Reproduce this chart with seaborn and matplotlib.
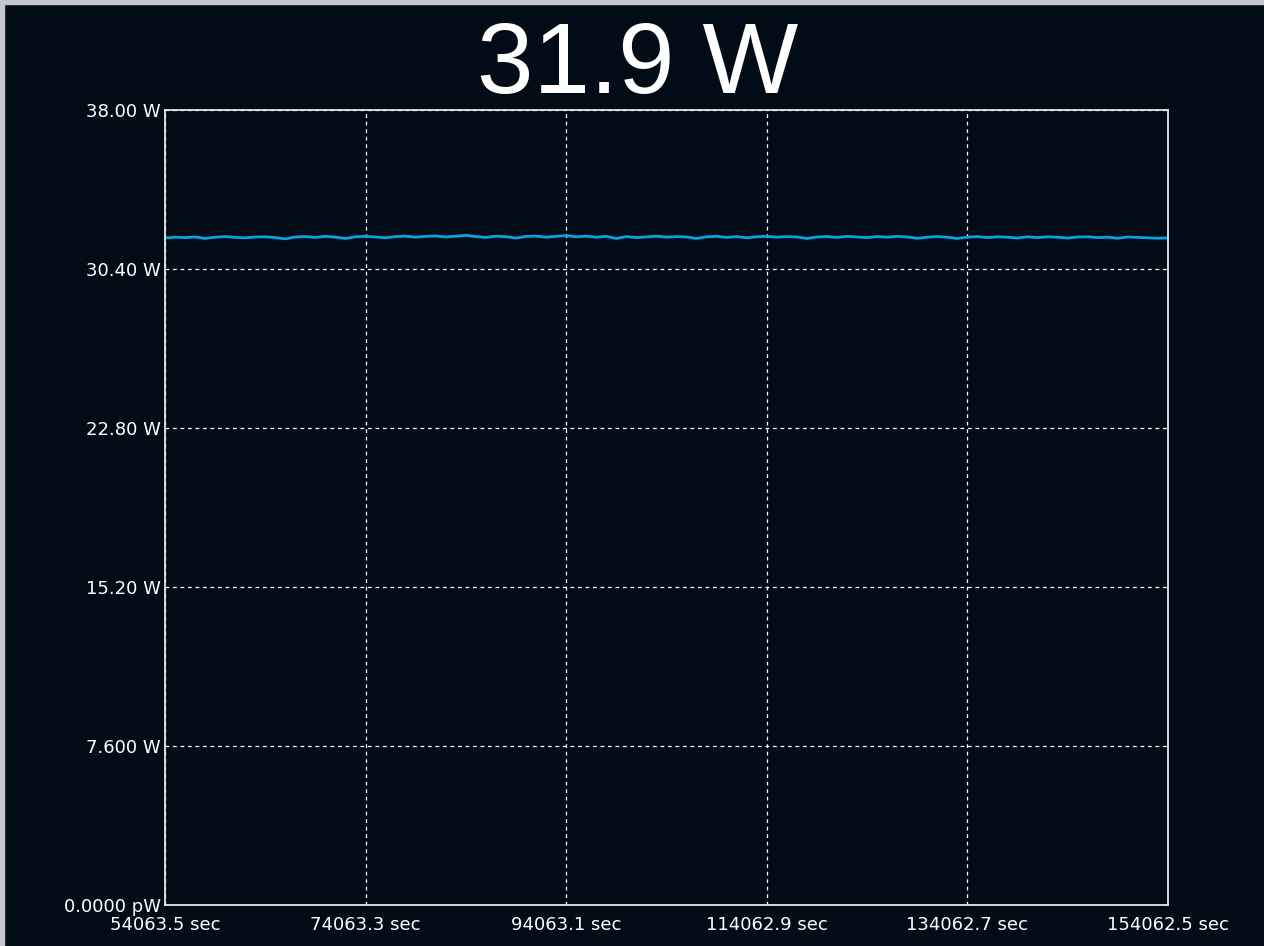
import numpy as np
import pandas as pd
import matplotlib
matplotlib.use("Agg")
import matplotlib.pyplot as plt
import seaborn as sns
from matplotlib.patches import Rectangle


BG = "#020c17"
LINE = "#0aa2de"

READING = "31.9 W"

TIME_SEC = [
    54063.5, 55063.5, 56063.5, 57063.5, 58063.5, 59063.5, 60063.5, 61063.5, 62063.5, 63063.5,
    64063.5, 65063.5, 66063.5, 67063.5, 68063.5, 69063.5, 70063.5, 71063.5, 72063.5, 73063.5,
    74063.3, 75063.3, 76063.3, 77063.3, 78063.3, 79063.3, 80063.3, 81063.3, 82063.3, 83063.3,
    84063.3, 85063.3, 86063.3, 87063.3, 88063.3, 89063.3, 90063.3, 91063.3, 92063.3, 93063.3,
    94063.1, 95063.1, 96063.1, 97063.1, 98063.1, 99063.1, 100063.1, 101063.1, 102063.1, 103063.1,
    104063.1, 105063.1, 106063.1, 107063.1, 108063.1, 109063.1, 110063.1, 111063.1, 112063.1, 113063.1,
    114062.9, 115062.9, 116062.9, 117062.9, 118062.9, 119062.9, 120062.9, 121062.9, 122062.9, 123062.9,
    124062.9, 125062.9, 126062.9, 127062.9, 128062.9, 129062.9, 130062.9, 131062.9, 132062.9, 133062.9,
    134062.7, 135062.7, 136062.7, 137062.7, 138062.7, 139062.7, 140062.7, 141062.7, 142062.7, 143062.7,
    144062.7, 145062.7, 146062.7, 147062.7, 148062.7, 149062.7, 150062.7, 151062.7, 152062.7, 153062.7,
    154062.5,
]

POWER_W = [
    31.88, 31.92, 31.90, 31.93, 31.86, 31.92, 31.95, 31.91, 31.89, 31.93,
    31.94, 31.90, 31.84, 31.93, 31.95, 31.91, 31.96, 31.92, 31.86, 31.94,
    31.96, 31.93, 31.89, 31.95, 31.97, 31.92, 31.96, 31.98, 31.93, 31.97,
    32.01, 31.95, 31.91, 31.97, 31.94, 31.88, 31.96, 31.97, 31.92, 31.96,
    32.00, 31.94, 31.97, 31.92, 31.96, 31.86, 31.95, 31.90, 31.93, 31.97,
    31.92, 31.95, 31.93, 31.86, 31.94, 31.96, 31.91, 31.95, 31.89, 31.94,
    31.96, 31.92, 31.95, 31.93, 31.86, 31.93, 31.95, 31.91, 31.96, 31.93,
    31.90, 31.95, 31.92, 31.96, 31.93, 31.87, 31.92, 31.95, 31.92, 31.86,
    31.92, 31.95, 31.90, 31.94, 31.92, 31.88, 31.94, 31.90, 31.94, 31.92,
    31.88, 31.93, 31.94, 31.90, 31.92, 31.87, 31.93, 31.91, 31.89, 31.87,
    31.89,
]

X_TICKS = [54063.5, 74063.3, 94063.1, 114062.9, 134062.7, 154062.5]
X_LABELS = ["54063.5 sec", "74063.3 sec", "94063.1 sec",
            "114062.9 sec", "134062.7 sec", "154062.5 sec"]

Y_TICKS = [0.0, 7.6, 15.2, 22.8, 30.4, 38.0]
Y_LABELS = ["0.0000 pW", "7.600 W", "15.20 W", "22.80 W", "30.40 W", "38.00 W"]


df = pd.DataFrame({"time": TIME_SEC, "power": POWER_W})

sns.set_theme(style="dark")
plt.rcParams["font.family"] = ["DejaVu Sans"]

fig = plt.figure(figsize=(12.64, 9.46), dpi=100, facecolor=BG)
ax = fig.add_axes([165 / 1264, 1 - 905 / 946, 1003 / 1264, 795 / 946])
ax.set_facecolor(BG)

sns.lineplot(data=df, x="time", y="power", ax=ax, color=LINE, linewidth=2.0)

ax.set_xlim(X_TICKS[0], X_TICKS[-1])
ax.set_ylim(Y_TICKS[0], Y_TICKS[-1])
ax.set_xticks(X_TICKS)
ax.set_xticklabels(X_LABELS)
ax.set_yticks(Y_TICKS)
ax.set_yticklabels(Y_LABELS)
ax.set_xlabel("")
ax.set_ylabel("")

ax.grid(True, color="white", linestyle=(0, (3, 3)), linewidth=0.9)
ax.set_axisbelow(True)
for spine in ax.spines.values():
    spine.set_color("#e6e6e6")
    spine.set_linewidth(1.3)
    spine.set_visible(True)

ax.tick_params(axis="both", length=0, colors="white", labelsize=13)
ax.tick_params(axis="x", pad=8)
ax.tick_params(axis="y", pad=3)

fig.text(0.5045, 1 - 93 / 946, READING, color="white", fontsize=73,
         family="Liberation Sans", ha="center", va="baseline")

# window frame strips
fig.patches.append(Rectangle((0, 1 - 4 / 946), 1, 4 / 946, transform=fig.transFigure,
                             color="#c3c6cd", zorder=5))
fig.patches.append(Rectangle((0, 0), 4 / 1264, 1, transform=fig.transFigure,
                             color="#c3c6cd", zorder=5))

fig.savefig("out.png", dpi=100, facecolor=BG)
plt.close(fig)
